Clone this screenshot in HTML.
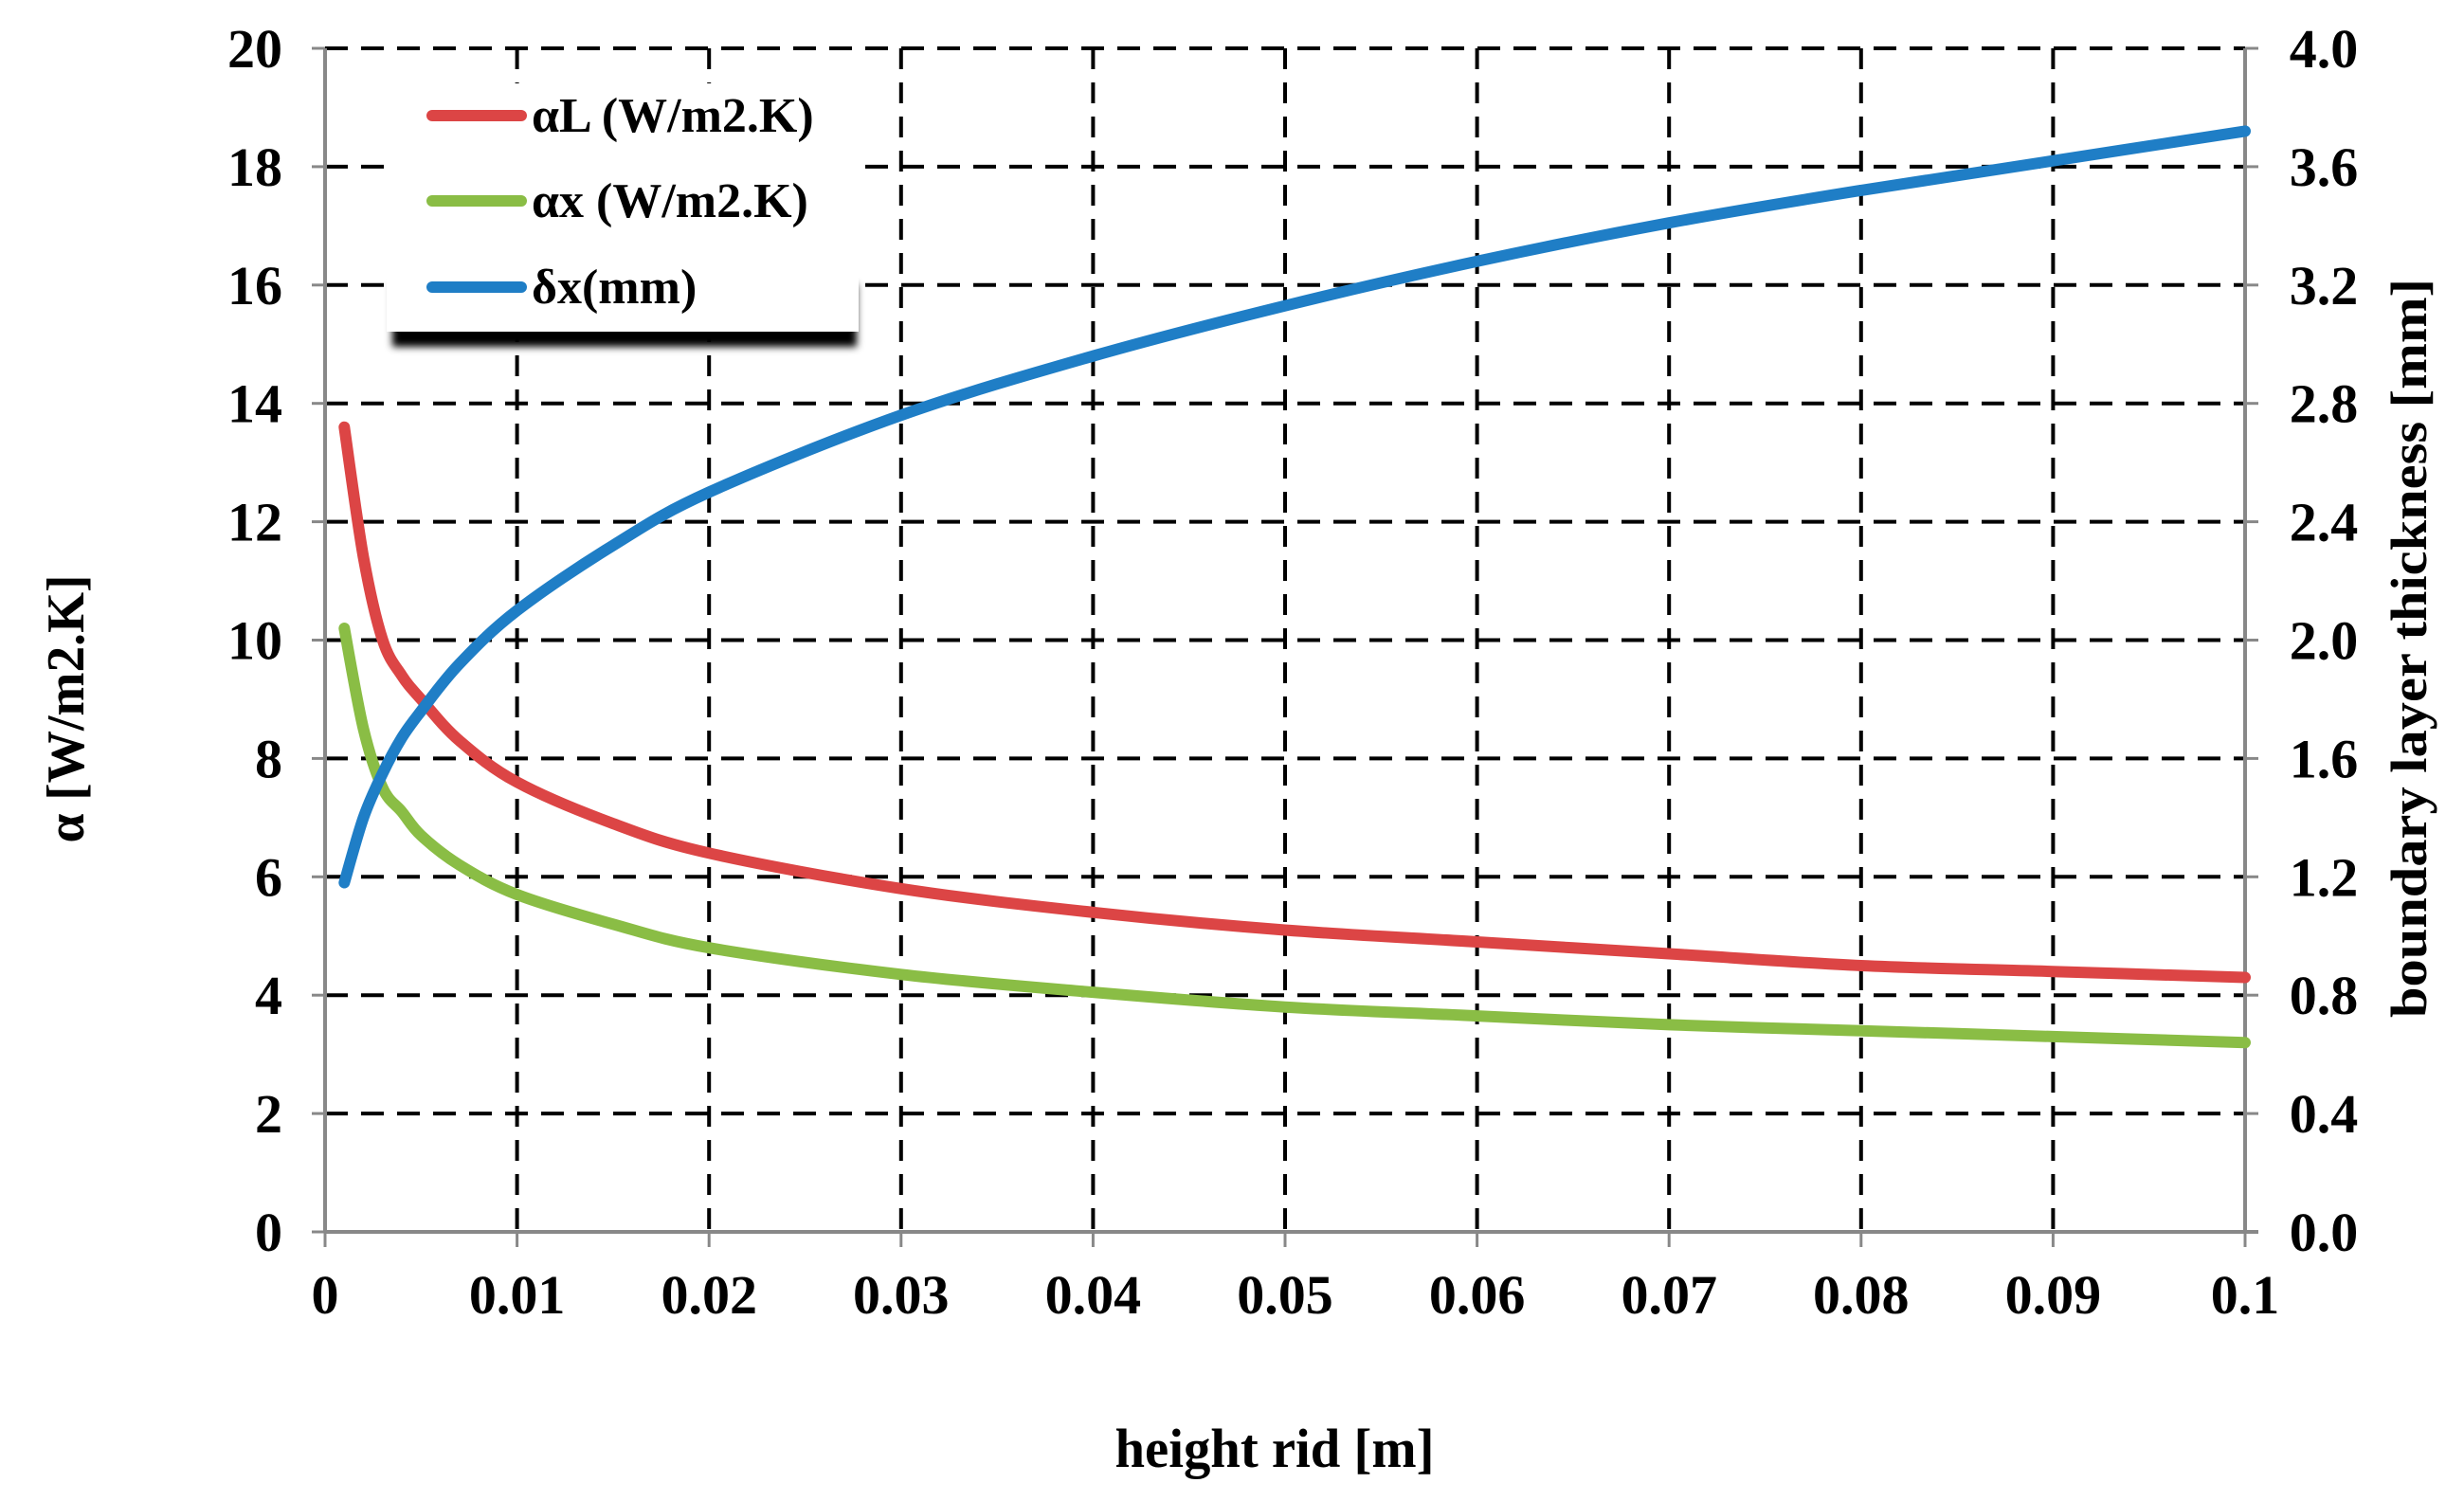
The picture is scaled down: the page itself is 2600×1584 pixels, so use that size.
<!DOCTYPE html>
<html><head><meta charset="utf-8"><style>
html,body{margin:0;padding:0;background:#fff;}
svg{display:block;}
text{font-family:"Liberation Serif",serif;font-weight:bold;fill:#000;}
</style></head><body>
<svg id="chart" width="2600" height="1584" viewBox="0 0 2600 1584" xmlns="http://www.w3.org/2000/svg">
<defs><filter id="blur" x="-10%" y="-10%" width="120%" height="130%"><feGaussianBlur stdDeviation="4"/></filter></defs>
<g id="grid"></g>
<g id="axes"></g>
<g id="series"></g>
<g id="legend">
  <rect x="414" y="300" width="490" height="66" fill="#000" filter="url(#blur)"/>
  <rect x="408" y="88" width="498" height="262" fill="#fff"/>
  <line x1="456" y1="122" x2="550" y2="122" stroke="#dc4545" stroke-width="12" stroke-linecap="round"/>
  <text x="561" y="139" font-size="52">αL (W/m2.K)</text>
  <line x1="456" y1="212" x2="550" y2="212" stroke="#8abd45" stroke-width="12" stroke-linecap="round"/>
  <text x="561" y="229" font-size="52">αx (W/m2.K)</text>
  <line x1="456" y1="303" x2="550" y2="303" stroke="#1f7ec6" stroke-width="12" stroke-linecap="round"/>
  <text x="561" y="320" font-size="52">δx(mm)</text>
</g>
<text x="1345" y="1548" font-size="58" text-anchor="middle" textLength="337" lengthAdjust="spacingAndGlyphs">height rid [m]</text>
<text transform="translate(88,748) rotate(-90)" font-size="56" text-anchor="middle" textLength="283" lengthAdjust="spacingAndGlyphs">α [W/m2.K]</text>
<text transform="translate(2560,684) rotate(-90)" font-size="54" text-anchor="middle" textLength="780" lengthAdjust="spacingAndGlyphs">boundary layer thickness [mm]</text>
</svg>
<script>
const xValues = [0.001,0.002,0.003,0.004,0.005,0.007,0.01,0.015,0.02,0.03,0.04,0.05,0.06,0.07,0.08,0.09,0.1];
const alphaL  = [13.6,11.4,10.0,9.4,9.0,8.3,7.6,6.9,6.4,5.8,5.4,5.1,4.9,4.7,4.5,4.4,4.3];
const alphaX  = [10.2,8.5,7.5,7.1,6.7,6.2,5.7,5.2,4.8,4.35,4.05,3.8,3.65,3.5,3.4,3.3,3.2];
const deltaX  = [1.18,1.4,1.55,1.67,1.76,1.92,2.1,2.32,2.5,2.76,2.96,3.13,3.28,3.41,3.52,3.62,3.72];
const xTicks = ["0","0.01","0.02","0.03","0.04","0.05","0.06","0.07","0.08","0.09","0.1"];
const yLeftTicks = ["0","2","4","6","8","10","12","14","16","18","20"];
const yRightTicks = ["0.0","0.4","0.8","1.2","1.6","2.0","2.4","2.8","3.2","3.6","4.0"];

const NS="http://www.w3.org/2000/svg";
const L=343,R=2369,T=51,B=1300;
const xs=v=>L+(v-0)/(0.1)*(R-L);
const yl=v=>B-(v/20)*(B-T);
const yr=v=>B-(v/4)*(B-T);
function mk(tag,attrs,parent){const e=document.createElementNS(NS,tag);for(const k in attrs)e.setAttribute(k,attrs[k]);parent.appendChild(e);return e;}
const grid=document.getElementById('grid'),axes=document.getElementById('axes'),ser=document.getElementById('series');

yLeftTicks.forEach((t)=>{
  const v=parseFloat(t),y=yl(v);
  if(v>0){const g=mk('line',{x1:L,y1:y,x2:R,y2:y,stroke:'#000','stroke-width':4,'stroke-dasharray':'24 14'},grid);
  
  }
  const tk=mk('line',{x1:L-14,y1:y,x2:L,y2:y,stroke:'#888','stroke-width':3},axes);
  
  
  const tx=mk('text',{x:298,y:y+20,'font-size':58,'text-anchor':'end'},axes);
  
  
  tx.textContent=t;
});
yRightTicks.forEach((t)=>{
  const y=yr(parseFloat(t));
  const tk=mk('line',{x1:R,y1:y,x2:R+14,y2:y,stroke:'#888','stroke-width':3},axes);
  
  
  const tx=mk('text',{x:2452,y:y+20,'font-size':58,'text-anchor':'middle'},axes);
  
  
  tx.textContent=t;
});
xTicks.forEach((t)=>{
  const v=parseFloat(t),x=xs(v);
  if(v>0&&v<0.1){const g=mk('line',{x1:x,y1:T,x2:x,y2:B,stroke:'#000','stroke-width':4,'stroke-dasharray':'22 14'},grid);
  
  }
  const tk=mk('line',{x1:x,y1:B,x2:x,y2:B+16,stroke:'#888','stroke-width':3},axes);
  
  
  const tx=mk('text',{x:x,y:1386,'font-size':58,'text-anchor':'middle'},axes);
  
  
  tx.textContent=t;
});
const al=mk('line',{x1:L,y1:T,x2:L,y2:B,stroke:'#888','stroke-width':4},axes);


const ar=mk('line',{x1:R,y1:T,x2:R,y2:B,stroke:'#888','stroke-width':4},axes);


const ab=mk('line',{x1:L,y1:B,x2:R+14,y2:B,stroke:'#888','stroke-width':4},axes);



function path(vals,yf,color,name){
  const P=vals.map((v,i)=>[xs(xValues[i]),yf(v)]);
  let d='M'+P[0][0].toFixed(1)+' '+P[0][1].toFixed(1);
  for(let i=0;i<P.length-1;i++){
    const p0=P[Math.max(0,i-1)],p1=P[i],p2=P[i+1],p3=P[Math.min(P.length-1,i+2)];
    const t=1/6;
    const c1=[p1[0]+(p2[0]-p0[0])*t,p1[1]+(p2[1]-p0[1])*t];
    const c2=[p2[0]-(p3[0]-p1[0])*t,p2[1]-(p3[1]-p1[1])*t];
    d+=' C'+c1[0].toFixed(1)+' '+c1[1].toFixed(1)+' '+c2[0].toFixed(1)+' '+c2[1].toFixed(1)+' '+p2[0].toFixed(1)+' '+p2[1].toFixed(1);
  }
  const p=mk('path',{d:d,fill:'none',stroke:color,'stroke-width':12,'stroke-linecap':'round','stroke-linejoin':'round'},ser);
  
  
}
path(alphaL,yl,'#dc4545','series-alpha-l');
path(alphaX,yl,'#8abd45','series-alpha-x');
path(deltaX,yr,'#1f7ec6','series-delta-x');
</script>
</body></html>
